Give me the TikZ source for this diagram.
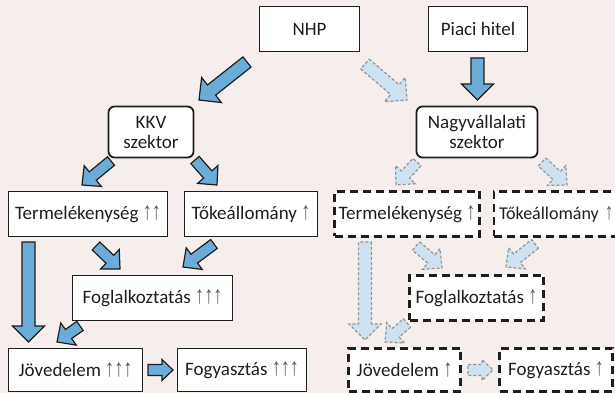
\documentclass[tikz,border=0pt]{standalone}
\usepackage{fontspec}
\setmainfont{Carlito}
\newfontfamily\arrowfont{Liberation Sans}
\usetikzlibrary{calc}
\definecolor{bg}{RGB}{246,238,236}
\definecolor{arrblue}{RGB}{108,172,216}
\definecolor{lightarr}{RGB}{207,226,241}
\definecolor{ink}{RGB}{30,30,30}
\definecolor{dashgray}{RGB}{150,150,150}
\definecolor{arrgray}{RGB}{90,90,90}
\newcommand{\upar}{{\color{arrgray}\arrowfont\scalebox{0.95}[1.3]{\char"2191}}}
\begin{document}
\begin{tikzpicture}[x=1pt,y=1pt,
  box/.style={draw=ink, line width=1.8pt, fill=white, inner sep=0pt, text=ink,
    font=\fontsize{19}{20}\selectfont, align=center},
  rbox/.style={box, rounded corners=6pt},
  dbox/.style={box, line width=2.1pt, dash pattern=on 8pt off 5pt},
  blockarrow/.style={line join=miter, to path={
    ($(\tikztostart)!\aw!90:(\tikztotarget)$)
    -- ($($(\tikztotarget)!\al!(\tikztostart)$)!\aw!90:(\tikztotarget)$)
    -- ($($(\tikztotarget)!\al!(\tikztostart)$)!\ah!90:(\tikztotarget)$)
    -- (\tikztotarget)
    -- ($($(\tikztotarget)!\al!(\tikztostart)$)!\ah!-90:(\tikztotarget)$)
    -- ($($(\tikztotarget)!\al!(\tikztostart)$)!\aw!-90:(\tikztotarget)$)
    -- ($(\tikztostart)!\aw!-90:(\tikztotarget)$)
    -- cycle}},
  big/.style={/utils/exec={\def\aw{6.5pt}\def\ah{16pt}\def\al{16pt}}},
  small/.style={/utils/exec={\def\aw{5.5pt}\def\ah{13.5pt}\def\al{14pt}}},
  tiny/.style={/utils/exec={\def\aw{5.5pt}\def\ah{10.5pt}\def\al{11pt}}},
  barrow/.style={blockarrow, draw=ink, fill=arrblue, line width=1.2pt},
  larrow/.style={blockarrow, draw=dashgray, fill=lightarr, line width=1.2pt, dash pattern=on 3pt off 2pt}
]
\useasboundingbox (0,0) rectangle (615,393);
\fill[bg] (0,0) rectangle (615,393);
\clip (0,0) rectangle (615,393);

% nodes
\node[box, minimum width=100pt, minimum height=45pt] (nhp) at (309.5,364) {NHP};
\node[box, minimum width=99pt, minimum height=45pt] (piaci) at (478,364) {Piaci hitel};
\node[rbox, minimum width=85pt, minimum height=51pt] (kkv) at (151,261) {KKV\\szektor};
\node[rbox, minimum width=121pt, minimum height=51pt] (nagy) at (477,261) {Nagyvállalati\\szektor};
\node[box, minimum width=159pt, minimum height=45pt] (term) at (88,179) {Termelékenység \upar\upar};
\node[box, minimum width=133pt, minimum height=45pt] (toke) at (251,179) {Tőkeállomány \upar};
\node[dbox, minimum width=145pt, minimum height=45pt] (dterm) at (407,179) {Termelékenység \upar};
\node[dbox, minimum width=140pt, minimum height=45pt, text width=130pt, align=left,
      font=\fontsize{18}{20}\selectfont] (dtoke) at (564,179) {Tőkeállomány \upar};
\node[box, minimum width=160pt, minimum height=45pt] (fog) at (152.5,95) {Foglalkoztatás \upar\upar\upar};
\node[dbox, minimum width=134pt, minimum height=45pt] (dfog) at (476.5,95) {Foglalkoztatás \upar};
\node[box, minimum width=134pt, minimum height=43pt] (jov) at (75.5,23) {Jövedelem \upar\upar\upar};
\node[box, minimum width=129pt, minimum height=43pt] (fogy) at (242,23) {Fogyasztás \upar\upar\upar};
\node[dbox, minimum width=112pt, minimum height=43pt] (djov) at (404.5,23) {Jövedelem \upar};
\node[dbox, minimum width=113pt, minimum height=43pt] (dfogy) at (556,23) {Fogyasztás \upar};

% arrow end points
\coordinate (a1s) at (247,331);  \coordinate (a1e) at (199,293);
\coordinate (a2s) at (365,329);  \coordinate (a2e) at (407,293);
\coordinate (a3s) at (477.5,335); \coordinate (a3e) at (477.5,293);
\coordinate (a4s) at (111,232);  \coordinate (a4e) at (82,208);
\coordinate (a5s) at (195,233);  \coordinate (a5e) at (217,208);
\coordinate (a6s) at (417,231);  \coordinate (a6e) at (396,208);
\coordinate (a7s) at (542,231);  \coordinate (a7e) at (567,208);
\coordinate (a8s) at (96,147);   \coordinate (a8e) at (120,124);
\coordinate (a9s) at (214,149);  \coordinate (a9e) at (183,126);
\coordinate (a10s) at (28.5,151); \coordinate (a10e) at (28.5,51);
\coordinate (a11s) at (80,67);   \coordinate (a11e) at (57,51);
\coordinate (a12s) at (148,23);  \coordinate (a12e) at (173,23);
\coordinate (a13s) at (416,147); \coordinate (a13e) at (442,125);
\coordinate (a14s) at (535,149); \coordinate (a14e) at (506,126);
\coordinate (a15s) at (365,151); \coordinate (a15e) at (365,53);
\coordinate (a16s) at (407,70);  \coordinate (a16e) at (385,51);
\coordinate (a17s) at (468,23);  \coordinate (a17e) at (493,23);

% blue arrows
\draw[barrow, big] (a1s) to (a1e);
\draw[barrow, big] (a3s) to (a3e);
\draw[barrow, small] (a4s) to (a4e);
\draw[barrow, small] (a5s) to (a5e);
\draw[barrow, small] (a8s) to (a8e);
\draw[barrow, small] (a9s) to (a9e);
\draw[barrow, big] (a10s) to (a10e);
\draw[barrow, small] (a11s) to (a11e);
\draw[barrow, tiny] (a12s) to (a12e);
% light dashed arrows
\draw[larrow, big] (a2s) to (a2e);
\draw[larrow, small] (a6s) to (a6e);
\draw[larrow, small] (a7s) to (a7e);
\draw[larrow, small] (a13s) to (a13e);
\draw[larrow, small] (a14s) to (a14e);
\draw[larrow, big] (a15s) to (a15e);
\draw[larrow, small] (a16s) to (a16e);
\draw[larrow, tiny] (a17s) to (a17e);
\end{tikzpicture}
\end{document}
